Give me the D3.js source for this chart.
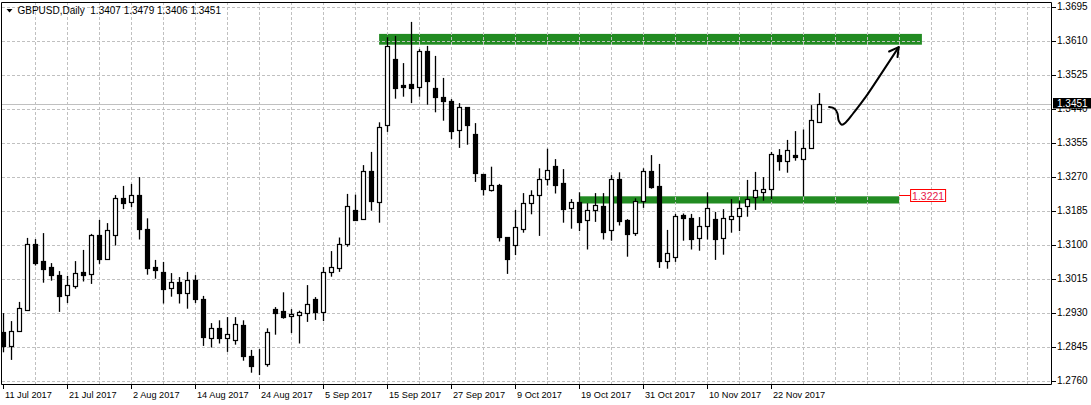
<!DOCTYPE html>
<html><head><meta charset="utf-8">
<script src="https://cdn.jsdelivr.net/npm/d3@7"></script>
<style>html,body{margin:0;padding:0;background:#fff;overflow:hidden}svg{display:block}</style>
</head><body>
<svg id="chart" width="1091" height="405"></svg>
<script>
// ---------- DATA ----------
const symbol = "GBPUSD,Daily";
const dates = [
"2017-07-11","2017-07-12","2017-07-13","2017-07-14","2017-07-17","2017-07-18","2017-07-19","2017-07-20","2017-07-21","2017-07-24","2017-07-25","2017-07-26","2017-07-27","2017-07-28","2017-07-31",
"2017-08-01","2017-08-02","2017-08-03","2017-08-04","2017-08-07","2017-08-08","2017-08-09","2017-08-10","2017-08-11","2017-08-14","2017-08-15","2017-08-16","2017-08-17","2017-08-18","2017-08-21","2017-08-22","2017-08-23","2017-08-24","2017-08-25","2017-08-28","2017-08-29","2017-08-30","2017-08-31",
"2017-09-01","2017-09-04","2017-09-05","2017-09-06","2017-09-07","2017-09-08","2017-09-11","2017-09-12","2017-09-13","2017-09-14","2017-09-15","2017-09-18","2017-09-19","2017-09-20","2017-09-21","2017-09-22","2017-09-25","2017-09-26","2017-09-27","2017-09-28","2017-09-29",
"2017-10-02","2017-10-03","2017-10-04","2017-10-05","2017-10-06","2017-10-09","2017-10-10","2017-10-11","2017-10-12","2017-10-13","2017-10-16","2017-10-17","2017-10-18","2017-10-19","2017-10-20","2017-10-23","2017-10-24","2017-10-25","2017-10-26","2017-10-27","2017-10-30","2017-10-31",
"2017-11-01","2017-11-02","2017-11-03","2017-11-06","2017-11-07","2017-11-08","2017-11-09","2017-11-10","2017-11-13","2017-11-14","2017-11-15","2017-11-16","2017-11-17","2017-11-20","2017-11-21","2017-11-22","2017-11-23","2017-11-24","2017-11-27","2017-11-28","2017-11-29","2017-11-30"];
const open = [1.2882,1.2848,1.2884,1.2937,1.3101,1.3059,1.3044,1.3024,1.2974,1.2996,1.3032,1.3028,1.3124,1.3065,1.3125,1.3216,1.3206,1.3224,1.3139,1.3044,
1.3033,1.2991,1.3006,1.2979,1.3011,1.2964,1.2868,1.2891,1.2868,1.2862,1.2899,1.2823,1.2801,1.2801,1.2939,1.2934,1.2921,1.2924,1.2930,1.2963,
1.2932,1.3033,1.3042,1.3102,1.3186,1.3164,1.3283,1.3208,1.3398,1.3564,1.3499,1.3501,1.3495,1.3584,1.3491,1.3469,1.3459,1.3386,1.3444,1.3377,
1.3277,1.3236,1.3249,1.3119,1.3098,1.3140,1.3203,1.3223,1.3263,1.3297,1.3254,1.3191,1.3206,1.3161,1.3186,1.3196,1.3136,1.3263,1.3161,1.3130,
1.3209,1.3283,1.3246,1.3060,1.3070,1.3174,1.3166,1.3116,1.3146,1.3164,1.3116,1.3164,1.3171,1.3196,1.3220,1.3233,1.3238,1.3323,1.3309,1.3324,
1.3315,1.3342,1.3407];
const high = [1.2929,1.2909,1.2957,1.3117,1.3114,1.3129,1.3054,1.3034,1.3022,1.3059,1.3087,1.3127,1.3162,1.3154,1.3224,1.3247,1.3252,1.3269,1.3166,1.3062,
1.3057,1.3029,1.3019,1.3032,1.3024,1.2972,1.2904,1.2911,1.2919,1.2919,1.2911,1.2837,1.2839,1.2891,1.2944,1.2981,1.2939,1.2935,1.2999,1.2969,
1.3044,1.3084,1.3118,1.3227,1.3225,1.3299,1.3332,1.3406,1.3619,1.3622,1.3554,1.3657,1.3589,1.3597,1.3572,1.3517,1.3464,1.3454,1.3444,1.3404,
1.3277,1.3295,1.3252,1.3119,1.3187,1.3229,1.3236,1.3291,1.3340,1.3314,1.3289,1.3214,1.3231,1.3204,1.3229,1.3229,1.3274,1.3281,1.3164,1.3216,
1.3291,1.3324,1.3302,1.3137,1.3177,1.3178,1.3177,1.3169,1.3231,1.3182,1.3189,1.3214,1.3209,1.3262,1.3282,1.3269,1.3332,1.3339,1.3362,1.3384,
1.3388,1.3449,1.3479];
const low = [1.2831,1.2812,1.2882,1.2936,1.3048,1.3005,1.3010,1.2932,1.2954,1.2990,1.3008,1.3002,1.3052,1.3064,1.3098,1.3189,1.3194,1.3113,1.3025,1.3015,
1.2953,1.2970,1.2953,1.2940,1.2954,1.2847,1.2843,1.2853,1.2832,1.2850,1.2810,1.2780,1.2774,1.2795,1.2875,1.2915,1.2879,1.2853,1.2907,1.2912,
1.2909,1.3020,1.3032,1.3095,1.3162,1.3164,1.3185,1.3155,1.3382,1.3465,1.3470,1.3454,1.3470,1.3450,1.3431,1.3410,1.3364,1.3342,1.3350,1.3257,
1.3223,1.3233,1.3108,1.3027,1.3074,1.3130,1.3176,1.3122,1.3248,1.3228,1.3155,1.3140,1.3134,1.3088,1.3157,1.3113,1.3110,1.3148,1.3070,1.3122,
1.3192,1.3240,1.3042,1.3040,1.3057,1.3110,1.3088,1.3085,1.3113,1.3062,1.3075,1.3130,1.3134,1.3170,1.3187,1.3210,1.3213,1.3285,1.3280,1.3310,
1.3221,1.3341,1.3406];
const close = [1.2847,1.2884,1.2941,1.3101,1.3055,1.3040,1.3023,1.2973,1.2999,1.3029,1.3025,1.3124,1.3065,1.3136,1.3216,1.3203,1.3224,1.3138,1.3042,1.3036,
1.2990,1.3006,1.2978,1.3011,1.2965,1.2870,1.2891,1.2868,1.2876,1.2901,1.2822,1.2797,1.2801,1.2881,1.2930,1.2920,1.2927,1.2931,1.2951,1.2932,
1.3033,1.3044,1.3101,1.3196,1.3162,1.3283,1.3210,1.3395,1.3597,1.3493,1.3495,1.3493,1.3584,1.3510,1.3468,1.3458,1.3385,1.3444,1.3398,1.3278,
1.3238,1.3249,1.3118,1.3065,1.3144,1.3204,1.3224,1.3263,1.3286,1.3250,1.3190,1.3206,1.3157,1.3186,1.3198,1.3133,1.3263,1.3160,1.3128,1.3209,
1.3283,1.3245,1.3060,1.3079,1.3171,1.3168,1.3115,1.3146,1.3191,1.3115,1.3166,1.3171,1.3193,1.3214,1.3237,1.3239,1.3327,1.3308,1.3336,1.3318,
1.3341,1.3411,1.3451];
const priceTicks = [1.2760,1.2845,1.2930,1.3015,1.3100,1.3185,1.3270,1.3355,1.3440,1.3525,1.3610,1.3695];
const timeTickDates  = ["2017-07-11","2017-07-21","2017-08-02","2017-08-14","2017-08-24","2017-09-05","2017-09-15","2017-09-27","2017-10-09","2017-10-19","2017-10-31","2017-11-10","2017-11-22"];
const timeTickLabels = ["11 Jul 2017","21 Jul 2017","2 Aug 2017","14 Aug 2017","24 Aug 2017","5 Sep 2017","15 Sep 2017","27 Sep 2017","9 Oct 2017","19 Oct 2017","31 Oct 2017","10 Nov 2017","22 Nov 2017"];
const lastPrice = 1.3451;
// zones: bar index range (future bars allowed) and price range
const zoneFrom = [46.95, 72];
const zoneTo   = [114.8, 111.95];
const zoneHi   = [1.3627, 1.3221];
const zoneLo   = [1.3600, 1.3203];
const levelLabel = 1.3221;
// hand-drawn arrow (bar index, price)
const arrowPts  = [[103.2,1.3444],[103.9,1.3440],[104.25,1.3428],[104.4,1.3410],[104.8,1.3400],[105.3,1.3406],[106.2,1.3428],[107.8,1.3470],[111.9,1.3594]];
const arrowHead = [[110.7,1.3583],[111.9,1.3594],[111.75,1.3569]];

// ---------- LAYOUT ----------
const W = 1091, H = 405;
const L = 2, R = 1052, T = 2, B = 384;
const font = "Tahoma, 'Liberation Sans', Arial, sans-serif";
const svg = d3.select("#chart");
svg.append("rect").attr("width", W).attr("height", H).attr("fill", "#fff");

const x = d3.scaleLinear().domain([0, 1]).range([3.5, 11.5]);
const y = d3.scaleLinear().domain([1.2760, 1.3695]).range([380.7, 6.7]);

svg.append("defs").append("clipPath").attr("id", "plotclip")
  .append("rect").attr("x", L).attr("y", T).attr("width", R - L).attr("height", B - T);
const plot = svg.append("g").attr("clip-path", "url(#plotclip)");

// zones (background objects)
plot.selectAll("rect.zone").data(d3.range(zoneFrom.length)).join("rect")
  .attr("class", "zone")
  .attr("x", i => x(zoneFrom[i])).attr("width", i => x(zoneTo[i]) - x(zoneFrom[i]))
  .attr("y", i => y(zoneHi[i])).attr("height", i => y(zoneLo[i]) - y(zoneHi[i]))
  .attr("fill", "#228b22");

// grid
const gridColor = "#c0c0c0";
plot.selectAll("line.hg").data(priceTicks).join("line")
  .attr("x1", L).attr("x2", R)
  .attr("y1", d => Math.round(y(d)) + 0.5).attr("y2", d => Math.round(y(d)) + 0.5)
  .attr("stroke", gridColor).attr("stroke-dasharray", "3,2").attr("stroke-width", 1);
const vIdx = d3.range(4, 140, 4).filter(i => x(i) < R);
plot.selectAll("line.vg").data(vIdx).join("line")
  .attr("x1", d => x(d)).attr("x2", d => x(d))
  .attr("y1", T).attr("y2", B)
  .attr("stroke", gridColor).attr("stroke-dasharray", "3,2").attr("stroke-width", 1);

// current price line
plot.append("line").attr("x1", L).attr("x2", R)
  .attr("y1", Math.round(y(lastPrice)) + 0.5).attr("y2", Math.round(y(lastPrice)) + 0.5)
  .attr("stroke", gridColor).attr("stroke-width", 1);

// candles
const idx = d3.range(dates.length);
const cg = plot.append("g");
cg.selectAll("line.wick").data(idx).join("line")
  .attr("x1", i => x(i)).attr("x2", i => x(i))
  .attr("y1", i => y(high[i])).attr("y2", i => y(low[i]))
  .attr("stroke", "#000").attr("stroke-width", 1.3);
cg.selectAll("rect.body").data(idx).join("rect")
  .attr("x", i => x(i) - 2).attr("width", 4)
  .attr("y", i => Math.round(y(Math.max(open[i], close[i]))) + 0.5)
  .attr("height", i => Math.max(0, Math.round(y(Math.min(open[i], close[i]))) - Math.round(y(Math.max(open[i], close[i])))))
  .attr("fill", i => close[i] >= open[i] ? "#fff" : "#000")
  .attr("stroke", "#000").attr("stroke-width", 1.2);

// arrow
const aline = d3.line().x(d => x(d[0])).y(d => y(d[1])).curve(d3.curveCatmullRom.alpha(0.5));
plot.append("path").attr("d", aline(arrowPts)).attr("fill", "none")
  .attr("stroke", "#000").attr("stroke-width", 2).attr("stroke-linecap", "round");
plot.append("path").attr("d", d3.line().x(d => x(d[0])).y(d => y(d[1]))(arrowHead)).attr("fill", "none")
  .attr("stroke", "#000").attr("stroke-width", 2).attr("stroke-linecap", "round").attr("stroke-linejoin", "round");

// level label
const lx = x(zoneTo[1]), ly = y(levelLabel);
svg.append("line").attr("x1", lx).attr("x2", lx + 11).attr("y1", Math.round(ly) - 0.5).attr("y2", Math.round(ly) - 0.5)
  .attr("stroke", "#ff0000").attr("stroke-width", 1);
svg.append("rect").attr("x", lx + 11.5).attr("y", Math.round(ly) - 6.5).attr("width", 35).attr("height", 12)
  .attr("fill", "#fff").attr("stroke", "#ff0000").attr("stroke-width", 1);
svg.append("text").attr("x", lx + 13).attr("y", Math.round(ly) + 4)
  .attr("font-family", font).attr("font-size", "10.5px").attr("fill", "#e8204a").text(levelLabel.toFixed(4));

// frame
svg.append("path").attr("d", `M${L - 0.5},${T + 0.5}H${R - 0.5}V${B + 0.5}H${L - 0.5}Z`)
  .attr("fill", "none").attr("stroke", "#000").attr("stroke-width", 1);

// right axis
const ra = svg.append("g");
ra.selectAll("line").data(priceTicks).join("line")
  .attr("x1", R).attr("x2", R + 4)
  .attr("y1", d => Math.round(y(d)) + 0.5).attr("y2", d => Math.round(y(d)) + 0.5)
  .attr("stroke", "#000");
ra.selectAll("text").data(priceTicks).join("text")
  .attr("x", R + 5).attr("y", d => y(d) + 3.5)
  .attr("font-family", font).attr("font-size", "10px").attr("fill", "#000")
  .text(d => d.toFixed(4));

// last price box (covers most of the neighbouring 1.3440 label, as in the original)
const lp = Math.round(y(lastPrice));
svg.append("rect").attr("x", R + 1).attr("y", lp - 6).attr("width", W - R - 1).attr("height", 10.5).attr("fill", "#000");
svg.append("text").attr("x", R + 5).attr("y", lp + 3)
  .attr("font-family", font).attr("font-size", "10px").attr("fill", "#fff").text(lastPrice.toFixed(4));

// bottom axis
const ba = svg.append("g");
const tIdx = timeTickDates.map(d => dates.indexOf(d));
ba.selectAll("line").data(tIdx).join("line")
  .attr("x1", i => x(i)).attr("x2", i => x(i)).attr("y1", B).attr("y2", B + 5)
  .attr("stroke", "#000");
ba.selectAll("text").data(tIdx).join("text")
  .attr("x", i => x(i) + 1.5).attr("y", 398)
  .attr("font-family", font).attr("font-size", "9.2px").attr("fill", "#000")
  .text((i, k) => timeTickLabels[k]);

// title
svg.append("path").attr("d", "M6.5,9L12.5,9L9.5,12.5Z").attr("fill", "#000");
svg.append("text").attr("x", 17.5).attr("y", 14).attr("xml:space", "preserve").style("white-space", "pre")
  .attr("font-family", font).attr("font-size", "10px").attr("fill", "#000")
  .text(symbol + "  " + [open[102], high[102], low[102], close[102]].map(v => v.toFixed(4)).join(" "));
</script>
</body></html>
